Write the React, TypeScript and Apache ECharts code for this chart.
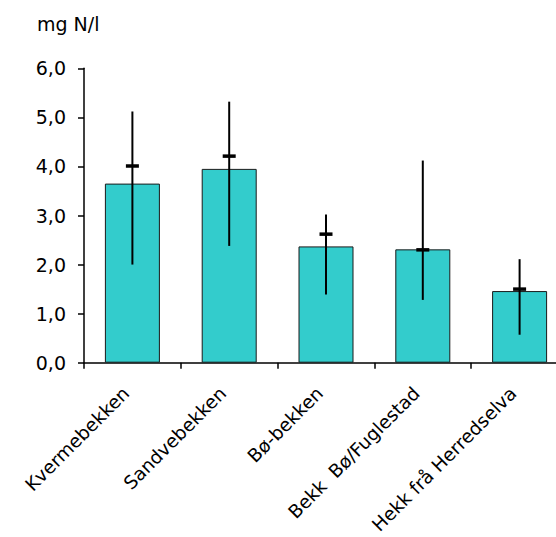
import React, { useEffect, useRef } from "react";
import * as echarts from "echarts";

const categories = [
  "Kvermebekken",
  "Sandvebekken",
  "Bø-bekken",
  "Bekk  Bø/Fuglestad",
  "Hekk frå Herredselva",
];
const meanValues = [3.65, 3.95, 2.37, 2.31, 1.46];
const minValues = [2.0, 2.38, 1.39, 1.28, 0.57];
const maxValues = [5.12, 5.32, 3.02, 4.12, 2.11];
const midValues = [4.01, 4.21, 2.62, 2.3, 1.5];
const unitLabel = "mg N/l";

const FONT = "'DejaVu Sans', 'Liberation Sans', Arial, sans-serif";

export default function App() {
  const ref = useRef<HTMLDivElement>(null);
  useEffect(() => {
    if (!ref.current) return;
    const chart = echarts.init(ref.current, null, { renderer: "svg" });
    const errData = categories.map((_, i) => [i, minValues[i], maxValues[i], midValues[i]]);
    chart.setOption({
      animation: false,
      backgroundColor: "#ffffff",
      title: {
        text: unitLabel,
        left: 37,
        top: 14.5,
        padding: 0,
        textStyle: { fontFamily: FONT, fontSize: 19, fontWeight: "normal", color: "#000" },
      },
      grid: {
        left: 84,
        top: 68.3,
        width: 484,
        height: 294.4,
        containLabel: false,
        outerBoundsMode: "none",
      },
      xAxis: {
        type: "category",
        data: categories,
        boundaryGap: true,
        axisLine: { lineStyle: { color: "#000", width: 1.5 } },
        axisTick: { show: true, inside: false, length: 6, lineStyle: { color: "#000", width: 1.5 } },
        axisLabel: {
          rotate: 45,
          interval: 0,
          margin: 21,
          padding: [0, 9, 0, 0],
          fontFamily: FONT,
          fontSize: 18.5,
          color: "#000",
        },
        splitLine: { show: false },
      },
      yAxis: {
        type: "value",
        min: 0,
        max: 6,
        interval: 1,
        axisLine: { show: true, lineStyle: { color: "#000", width: 1.5 } },
        axisTick: { show: true, inside: false, length: 6, lineStyle: { color: "#000", width: 1.5 } },
        axisLabel: {
          margin: 18,
          fontFamily: FONT,
          fontSize: 19,
          color: "#000",
          formatter: (v: number) => v.toFixed(1).replace(".", ","),
        },
        splitLine: { show: false },
      },
      series: [
        {
          type: "bar",
          data: meanValues,
          barWidth: 55,
          itemStyle: { color: "#33CCCC", borderColor: "#1a1a1a", borderWidth: 1 },
          z: 2,
        },
        {
          type: "custom",
          data: errData,
          z: 5,
          clip: false,
          encode: { x: 0, y: [1, 2, 3] },
          renderItem: (params: any, api: any) => {
            const i = api.value(0);
            const lo = api.coord([i, api.value(1)]);
            const hi = api.coord([i, api.value(2)]);
            const md = api.coord([i, api.value(3)]);
            return {
              type: "group",
              children: [
                {
                  type: "line",
                  shape: { x1: lo[0], y1: lo[1], x2: hi[0], y2: hi[1] },
                  style: { stroke: "#000", lineWidth: 2 },
                },
                {
                  type: "rect",
                  shape: { x: md[0] - 6.5, y: md[1] - 1.75, width: 13, height: 3.5 },
                  style: { fill: "#000" },
                },
              ],
            };
          },
        },
      ],
    });
    return () => chart.dispose();
  }, []);
  return (
    <div style={{ position: "absolute", left: 0, top: 0, width: 556, height: 537, overflow: "hidden" }}>
      <div ref={ref} style={{ width: 600, height: 537 }} />
    </div>
  );
}
